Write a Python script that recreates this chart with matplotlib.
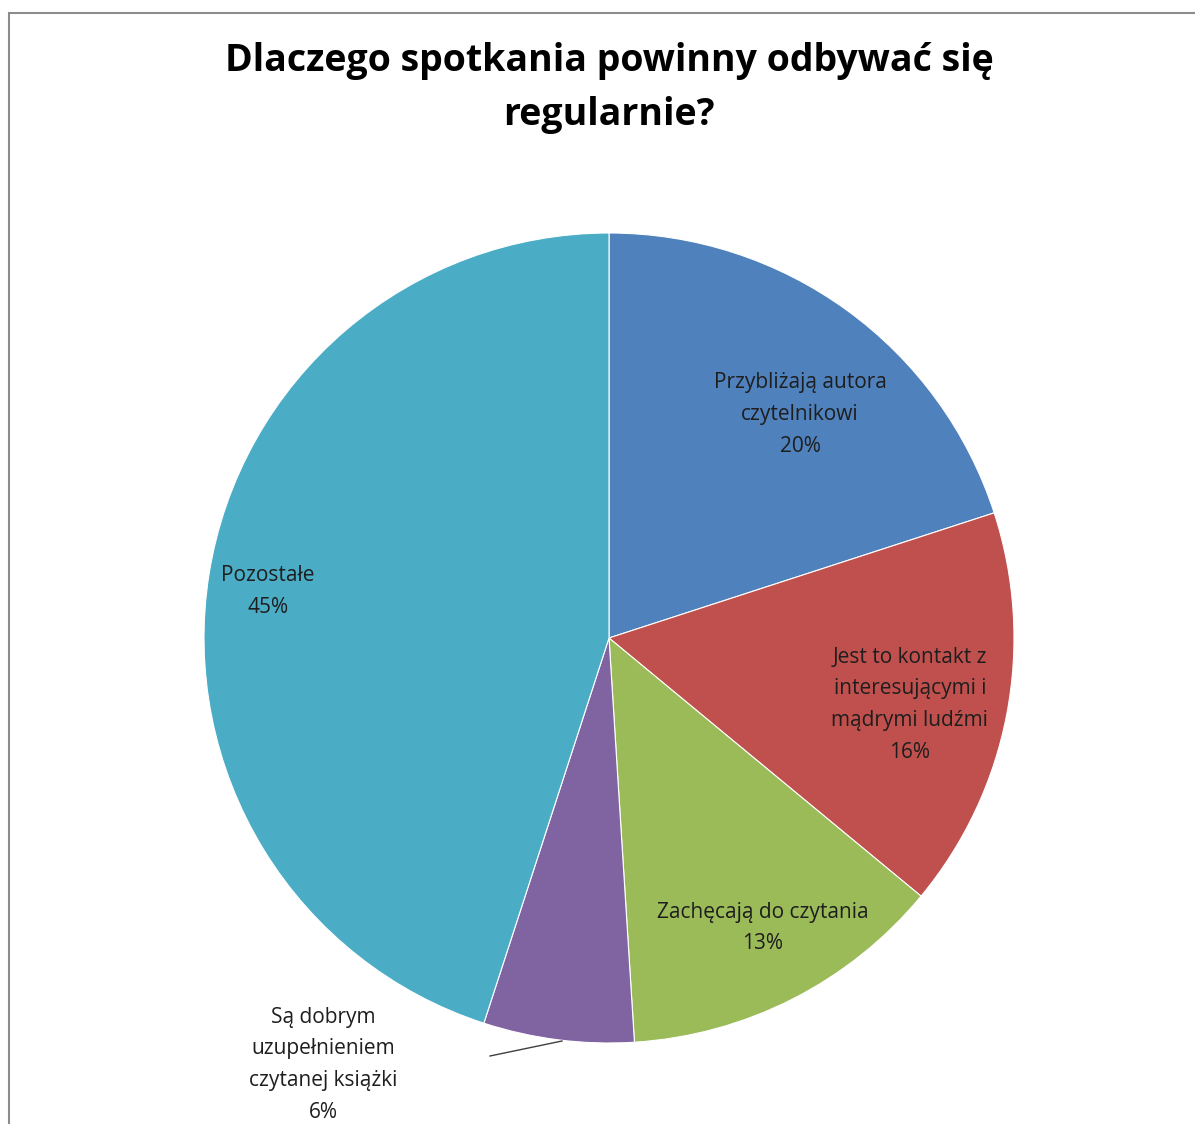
import matplotlib.pyplot as plt
from matplotlib.patches import Rectangle

# data
labels = ['Przybliżają autora\nczytelnikowi', 'Jest to kontakt z\ninteresującymi i\nmądrymi ludźmi',
          'Zachęcają do czytania', 'Są dobrym\nuzupełnieniem\nczytanej książki', 'Pozostałe']
shares = [20, 16, 13, 6, 45]
colors = ['#4F81BD', '#C0504D', '#9BBB59', '#8064A2', '#4BACC6']

# label centres (in units of the pie radius)
label_xy = [(0.472, 0.551), (0.743, -0.165), (0.380, -0.716), (-0.706, -1.054), (-0.842, 0.114)]

plt.rcParams['font.family'] = ['Open Sans', 'DejaVu Sans']

W, H = 1195, 1124
cx, cy, r = 609, 638, 405

fig = plt.figure(figsize=(W / 100, H / 100), dpi=100)
ax = fig.add_axes([0, 0, 1, 1])

ax.pie(shares, colors=colors, startangle=90, counterclock=False, radius=1,
       wedgeprops=dict(edgecolor='white', linewidth=0.8))
# pie() resets the limits, so set them afterwards
ax.set_aspect('auto')
ax.set_xlim(-cx / r, (W - cx) / r)
ax.set_ylim((cy - H) / r, cy / r)
ax.axis('off')

for lab, s, (x, y) in zip(labels, shares, label_xy):
    ax.text(x, y, f'{lab}\n{s}%', ha='center', va='center', fontsize=15,
            color='#1e1e1e', linespacing=1.68)

# leader line for the small slice
ax.plot([(490 - cx) / r, (562 - cx) / r], [(cy - 1056) / r, (cy - 1041) / r],
        color='#404040', lw=1)

fig.text(609 / W, 1 - 88 / H, 'Dlaczego spotkania powinny odbywać się\nregularnie?',
         ha='center', va='center', fontsize=27, fontweight='bold', linespacing=1.55)

# chart frame (only top and left edges visible in the crop)
fig.patches.append(Rectangle((9 / W, -0.1), 1.2, 1 - 13 / H + 0.1, transform=fig.transFigure,
                             fill=False, edgecolor='#8c8c8c', lw=1.5))

fig.savefig('out.png', dpi=100)
